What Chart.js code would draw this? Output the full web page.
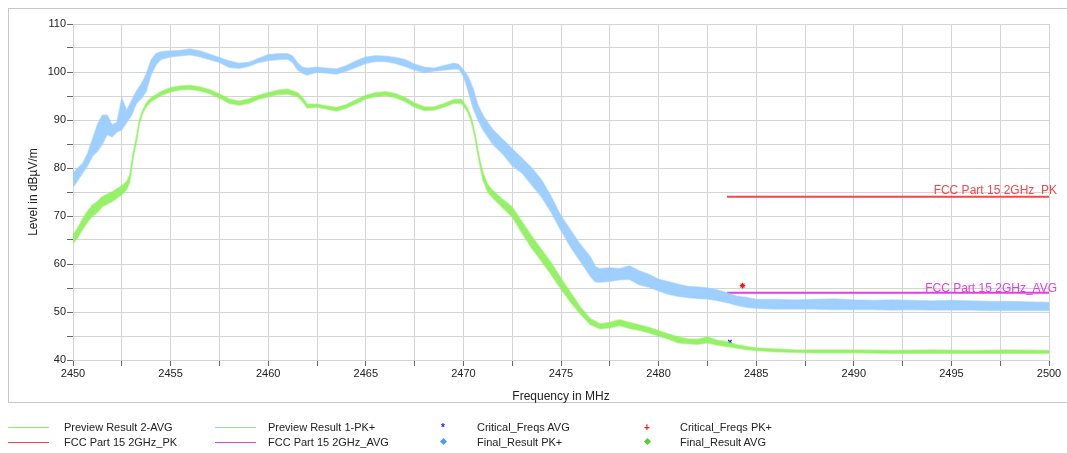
<!DOCTYPE html>
<html>
<head>
<meta charset="utf-8">
<script src="https://cdn.jsdelivr.net/npm/chart.js@4"></script>
<style>
  html, body { margin:0; padding:0; background:#fff; }
  #wrap { position:relative; width:1067px; height:453px; overflow:hidden; font-family:"Liberation Sans", Arial, sans-serif; }
  #frame { position:absolute; left:8px; top:8px; width:1070px; height:395px; border:1px solid #c8c8c8; box-sizing:border-box; }
  canvas { position:absolute; left:0; top:0; }
  .lg { position:absolute; font-size:11px; color:#222; line-height:13px; white-space:nowrap; }
  .ln { position:absolute; height:1px; width:41px; }
  .mk { position:absolute; font-size:10px; line-height:10px; font-weight:bold; }
  .dm { position:absolute; width:5px; height:5px; transform:rotate(45deg); }
</style>
</head>
<body>
<div id="wrap">
  <div id="frame"></div>
  <canvas id="c" width="1067" height="453"></canvas>
  <div class="ln" style="left:8px;top:427px;background:#90f060"></div>
  <div class="lg" style="left:64px;top:421px">Preview Result 2-AVG</div>
  <div class="ln" style="left:215px;top:427px;background:#99ccff"></div>
  <div class="lg" style="left:268px;top:421px">Preview Result 1-PK+</div>
  <div class="mk" style="left:441px;top:423px;color:#2020e0">*</div>
  <div class="lg" style="left:477px;top:421px">Critical_Freqs AVG</div>
  <div class="mk" style="left:644px;top:423px;color:#e02020">+</div>
  <div class="lg" style="left:680px;top:421px">Critical_Freqs PK+</div>

  <div class="ln" style="left:8px;top:442px;background:#f04848"></div>
  <div class="lg" style="left:64px;top:436px">FCC Part 15 2GHz_PK</div>
  <div class="ln" style="left:215px;top:442px;background:#e040e0"></div>
  <div class="lg" style="left:268px;top:436px">FCC Part 15 2GHz_AVG</div>
  <div class="dm" style="left:441px;top:439px;background:#4a9ee8"></div>
  <div class="lg" style="left:477px;top:436px">Final_Result PK+</div>
  <div class="dm" style="left:645px;top:439px;background:#5cc83a"></div>
  <div class="lg" style="left:680px;top:436px">Final_Result AVG</div>
</div>
<script>
// ---- Data ----
const blueFreq = [
  2450,2450.25,2450.5,2450.75,2451,2451.25,2451.5,2451.75,2452,2452.25,
  2452.5,2452.75,2453,2453.25,2453.5,2453.75,2454,2454.25,2454.5,2455,
  2455.5,2456,2456.5,2457,2457.5,2458,2458.5,2459,2459.5,2460,
  2460.5,2461,2461.25,2461.5,2461.75,2462,2462.5,2463,2463.5,2464,
  2464.5,2465,2465.5,2466,2466.5,2467,2467.5,2468,2468.5,2469,
  2469.5,2469.75,2470,2470.25,2470.5,2470.75,2471,2471.25,2471.5,2472,
  2472.5,2473,2473.5,2474,2474.5,2475,2475.5,2476,2476.5,2476.75,
  2477,2477.5,2478,2478.5,2479,2479.5,2480,2480.5,2481,2481.5,
  2482,2482.5,2483,2483.5,2484,2484.5,2485,2486,2487,2488,
  2489,2490,2491,2492,2493,2494,2495,2496,2497,2498,
  2499,2500
];
const bluePkHigh = [
  79,80,81,83,86,89,91,91,89,89.5,
  94.5,92,94,96,97.5,99.5,102.5,103.8,104.2,104.4,
  104.5,104.8,104.4,103.7,103,102.3,101.8,102,102.8,103.6,
  103.8,103.8,103.3,101.9,101,100.8,101,100.8,100.6,101.3,
  102.3,103.1,103.4,103.3,103,102.6,101.6,101,100.8,101.3,
  101.8,101.6,100.4,99,96.5,93,91,89.5,88,86,
  84,82,80,77.5,74,70,67,64,61.5,59.5,
  59,59.2,59,59.6,58.6,57.8,56.8,56.3,55.8,55.3,
  55.2,55,54.6,54,53.3,53,52.6,52.6,52.5,52.6,
  52.7,52.5,52.4,52.5,52.4,52.3,52.4,52.3,52.2,52.2,
  52.1,52
];
const bluePkLow = [
  76,77.5,79,80.5,82.5,83.5,85,87,86.5,87.5,
  88,89.5,91,93.5,94.5,96,99.5,101.5,102.6,103.2,
  103.4,103.6,103.2,102.6,102,101,100.8,101.2,102,102.4,
  102.6,102.7,102,100.5,99.8,99.4,100,99.8,99.6,100.2,
  101,101.8,102.2,102.2,101.8,101.2,100.4,99.9,100.2,100.4,
  100.6,100.7,99.2,96,92.5,90,88,86.5,85,83,
  80.5,79,76.5,74,70.8,67,63.5,60.5,57.5,56.3,
  56.2,56.4,56.7,56.8,55.7,55.2,54.4,53.7,53.3,53,
  52.8,52.7,52.4,52,51.4,51,50.8,50.6,50.6,50.6,
  50.5,50.5,50.5,50.4,50.5,50.4,50.4,50.4,50.3,50.3,
  50.3,50.3
];
const greenFreq = [
  2450,2450.25,2450.5,2450.75,2451,2451.25,2451.5,2452,2452.5,2452.75,
  2452.9,2453.1,2453.25,2453.4,2453.6,2453.8,2454,2454.5,2455,2455.5,
  2456,2456.5,2457,2457.5,2458,2458.5,2459,2459.5,2460,2460.5,
  2461,2461.5,2461.75,2462,2462.5,2463,2463.5,2464,2464.5,2465,
  2465.5,2466,2466.5,2467,2467.5,2468,2468.5,2469,2469.5,2469.9,
  2470.2,2470.4,2470.6,2470.8,2471,2471.25,2471.5,2472,2472.5,2473,
  2473.5,2474,2474.5,2475,2475.5,2476,2476.5,2477,2477.5,2478,
  2478.5,2479,2479.5,2480,2480.5,2481,2481.5,2482,2482.5,2483,
  2483.5,2484,2484.5,2485,2486,2487,2488,2490,2492,2494,
  2496,2498,2500
];
const greenAvgHigh = [
  66,67.5,69.5,71,72.3,73,74,75,76.3,77.2,
  78.5,83.5,86.5,90,92.3,93.8,94.6,95.9,96.7,97.1,
  97.2,96.9,96.3,95.4,94.4,93.9,94.4,95.1,95.7,96.2,
  96.4,95.7,94.7,93.3,93.3,92.9,92.6,93.2,94.2,95.1,
  95.7,95.9,95.5,94.7,93.5,92.7,92.7,93.4,94.2,94.3,
  92.5,90.5,87,82.5,79,76.5,75.3,73.5,71.8,68.8,
  65.8,63,60.2,57,54,51,48.6,47.5,47.8,48.4,
  47.8,47.3,46.8,46.1,45.4,44.8,44.4,44.3,44.8,44.1,
  43.8,43.2,42.8,42.5,42.3,42.1,42.1,42.1,42,42.1,
  42,42.1,42
];
const greenAvgLow = [
  64.3,65.5,67.3,68.8,70,70.8,72,73,74.5,75.5,
  77,82.5,85.5,89.3,91.7,93,93.9,95.1,95.9,96.3,
  96.4,96.1,95.5,94.6,93.5,93.1,93.5,94.3,94.9,95.3,
  95.4,94.9,93.9,92.5,92.7,92.3,91.9,92.5,93.4,94.4,
  94.9,95.1,94.7,93.9,92.7,92,92.1,92.7,93.5,93.5,
  91.8,89.8,86.2,81.5,77.5,75,73.8,71.8,69.8,66.5,
  63.3,60.6,57.8,54.8,52,49.6,47.4,46.5,46.7,47.2,
  46.6,46.2,45.7,45,44.4,43.6,43.4,43.3,43.6,43.1,
  42.8,42.5,42.2,42,41.7,41.6,41.5,41.5,41.4,41.4,
  41.4,41.4,41.4
];
const pkLimitFreq = [2483.5, 2500];
const pkLimit = [74, 74];
const avgLimitFreq = [2483.5, 2500];
const avgLimit = [54, 54];
const critAvgFreq = [2483.65];
const critAvgLevel = [43.8];
const critPkFreq = [2484.3];
const critPkLevel = [55.5];
const xTickLabels = [2450,2455,2460,2465,2470,2475,2480,2485,2490,2495,2500];
const yTickLabels = [40,50,60,70,80,90,100,110];

const pts = (fs, vs) => fs.map((f, i) => ({x: f, y: vs[i]}));
const FONT = "'Liberation Sans', Arial, sans-serif";

const limitLabels = {
  id: 'limitLabels',
  afterDatasetsDraw(chart) {
    const {ctx, scales: {x, y}} = chart;
    ctx.save();
    ctx.font = '12px ' + FONT;
    ctx.textAlign = 'right';
    ctx.textBaseline = 'alphabetic';
    const xr = x.getPixelForValue(pkLimitFreq[1]) + 8;
    ctx.fillStyle = '#f04848';
    ctx.fillText('FCC Part 15 2GHz_PK', xr, y.getPixelForValue(pkLimit[1]) - 3);
    ctx.fillStyle = '#e040e0';
    ctx.fillText('FCC Part 15 2GHz_AVG', xr, y.getPixelForValue(avgLimit[1]) - 1);
    ctx.restore();
  }
};

new Chart(document.getElementById('c'), {
  type: 'line',
  data: {
    datasets: [
      { label: 'Preview Result 2-AVG', data: pts(greenFreq, greenAvgHigh), borderColor: 'rgba(144,240,96,0.55)', backgroundColor: 'rgba(144,240,96,0.95)', borderWidth: 1.5, pointRadius: 0, fill: '+1', tension: 0 },
      { label: 'avg-low', data: pts(greenFreq, greenAvgLow), borderColor: 'rgba(144,240,96,0.55)', borderWidth: 1.5, pointRadius: 0, fill: false, tension: 0 },
      { label: 'Preview Result 1-PK+', data: pts(blueFreq, bluePkHigh), borderColor: 'rgba(153,204,255,0.55)', backgroundColor: 'rgba(153,204,255,0.95)', borderWidth: 1.5, pointRadius: 0, fill: '+1', tension: 0 },
      { label: 'pk-low', data: pts(blueFreq, bluePkLow), borderColor: 'rgba(153,204,255,0.55)', borderWidth: 1.5, pointRadius: 0, fill: false, tension: 0 },
      { label: 'FCC Part 15 2GHz_PK', data: pts(pkLimitFreq, pkLimit), borderColor: '#f04848', borderWidth: 2, pointRadius: 0, fill: false },
      { label: 'FCC Part 15 2GHz_AVG', data: pts(avgLimitFreq, avgLimit), borderColor: '#e040e0', borderWidth: 2, pointRadius: 0, fill: false },
      { label: 'Critical_Freqs AVG', data: pts(critAvgFreq, critAvgLevel), showLine: false, pointStyle: 'crossRot', pointRadius: 2.5, borderColor: '#2020e0', borderWidth: 1.2, backgroundColor: '#2020e0' },
      { label: 'Critical_Freqs PK+', data: pts(critPkFreq, critPkLevel), showLine: false, pointStyle: 'star', pointRadius: 2.8, borderColor: '#e02020', borderWidth: 1.2, backgroundColor: '#e02020' }
    ]
  },
  options: {
    responsive: false,
    animation: false,
    devicePixelRatio: 1,
    layout: { padding: { left: 0, right: 18, top: 24, bottom: 43 } },
    plugins: { legend: { display: false }, tooltip: { enabled: false } },
    scales: {
      x: {
        type: 'linear', min: 2450, max: 2500,
        afterFit: s => { s.height = 50; },
        ticks: { stepSize: 2.5, autoSkip: false, maxRotation: 0, padding: 1, color: '#222',
                 font: { family: FONT, size: 11 },
                 callback: v => xTickLabels.includes(v) ? String(v) : '' },
        grid: { color: '#d4d4d4', tickColor: '#666', tickLength: 6, lineWidth: 1 },
        border: { color: '#d4d4d4' },
        title: { display: true, text: 'Frequency in MHz', color: '#222', font: { family: FONT, size: 12 }, padding: { top: 0, bottom: 6 } }
      },
      y: {
        type: 'linear', min: 40, max: 110,
        afterFit: s => { s.width = 73; },
        ticks: { stepSize: 5, autoSkip: false, padding: 1, color: '#222',
                 font: { family: FONT, size: 11 },
                 callback: v => yTickLabels.includes(v) ? String(v) : '' },
        grid: { color: '#d4d4d4', tickColor: '#666', tickLength: 6, lineWidth: 1 },
        border: { color: '#d4d4d4' },
        title: { display: true, text: 'Level in dBµV/m', color: '#222', font: { family: FONT, size: 12 }, padding: { top: 26, bottom: 0 } }
      }
    }
  },
  plugins: [limitLabels]
});
</script>
</body>
</html>
